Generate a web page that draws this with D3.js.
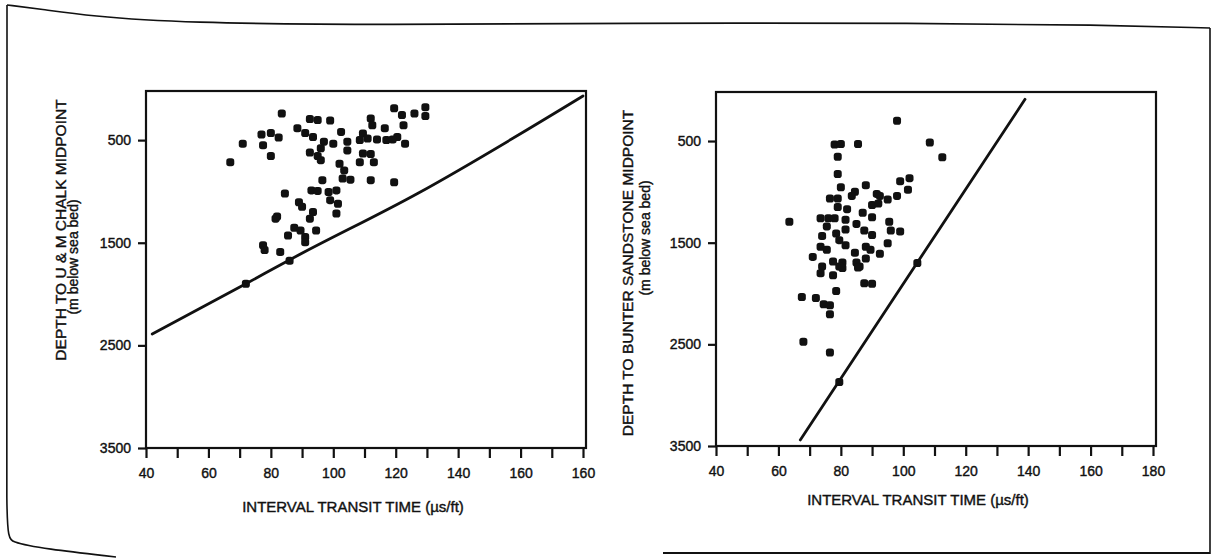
<!DOCTYPE html>
<html>
<head>
<meta charset="utf-8">
<script src="https://cdn.jsdelivr.net/npm/d3@7"></script>
<style>
  body { margin: 0; background: #fff; }
  svg { display: block; }
  text { font-family: "Liberation Sans", Arial, Helvetica, sans-serif; fill: #111; stroke: #111; stroke-width: 0.4px; }
</style>
</head>
<body>
<svg id="chart" width="1216" height="558"></svg>
<script>
// ---- Chalk panel: interval transit time (µs/ft) vs depth to U & M Chalk midpoint (m) ----
const chalkTransit = [83.5, 67, 71, 77, 80, 82.5, 77.5, 80, 92.5, 95, 99, 88.5, 91, 93.5, 97, 96, 92.5, 95, 96,
  100, 102.5, 104.5, 104.5, 112, 112.5, 109.5, 108.5, 111, 114, 116.5, 117, 119.5, 122, 126, 129.5, 129.5,
  122.5, 120.5, 119, 123, 109.5, 112, 108.5, 113, 102, 103.5, 103, 105.5, 112, 119.5, 96.5, 93, 95, 84.5,
  98.5, 101, 99, 101.5, 101, 89, 90, 92.5, 93.5, 82, 81.5, 87.5, 85.5, 89.5, 91, 91, 94.5, 77.5, 78, 83, 86, 72];
const chalkDepth = [240, 715, 535, 445, 430, 475, 550, 655, 295, 305, 310, 385, 430, 470, 515, 580, 620, 655, 695,
  535, 420, 515, 600, 290, 355, 435, 500, 485, 495, 385, 500, 190, 255, 240, 180, 265,
  355, 470, 495, 535, 630, 635, 715, 715, 730, 795, 875, 885, 890, 910, 890, 990, 995, 1020,
  1005, 990, 1085, 1120, 1215, 1105, 1150, 1265, 1200, 1245, 1265, 1355, 1430, 1380, 1445, 1495, 1380, 1525, 1570, 1590, 1675, 1900];
// trend line for the chalk panel
const chalkLineTransit = [42, 72, 85.5, 127, 180];
const chalkLineDepth = [2390, 1900, 1675, 1020, 70];

// ---- Bunter panel: interval transit time (µs/ft) vs depth to Bunter Sandstone midpoint (m) ----
const bunterTransit = [98, 78, 80, 85.5, 79, 108.5, 112.5, 79, 80, 88, 99, 102, 101.5, 84.5, 83.5, 76.5, 79, 79, 82,
  91.5, 92.5, 95, 98, 90, 92, 87, 90, 63.5, 73.5, 76, 78, 75.5, 81.5, 85, 95.5, 81.5, 87.5, 96, 99, 74, 78.5,
  79.5, 90, 95, 73.5, 75.5, 81.5, 84.5, 88, 89.5, 92.5, 71, 77.5, 80.5, 85, 88, 74, 79.5, 86, 104.5, 73.5, 77.5,
  80.5, 85.5, 87.5, 90, 78.5, 67.5, 72, 74.5, 76.5, 76.5, 68, 76.5, 79.5];
const bunterDepth = [300, 535, 530, 530, 655, 515, 660, 825, 955, 935, 895, 865, 980, 1000, 1040, 1065, 1065, 1150, 1170,
  1020, 1040, 1075, 1040, 1130, 1115, 1205, 1250, 1295, 1260, 1260, 1260, 1340, 1275, 1315, 1295, 1370, 1380, 1380, 1390, 1435, 1410,
  1475, 1425, 1505, 1540, 1570, 1525, 1600, 1540, 1570, 1610, 1640, 1685, 1695, 1695, 1655, 1735, 1735, 1735, 1700, 1800, 1820,
  1750, 1745, 1900, 1905, 1975, 2035, 2045, 2105, 2115, 2205, 2475, 2580, 2870];
const bunterLineTransit = [67, 139];
const bunterLineDepth = [3440, 90];

// ---- axis ticks and labels ----
const xTickValues = [40, 50, 60, 70, 80, 90, 100, 110, 120, 130, 140, 150, 160, 170, 180];
const chalkXLabels = ["40", "60", "80", "100", "120", "140", "160", "160"];
const bunterXLabels = ["40", "60", "80", "100", "120", "140", "160", "180"];
const yTickValues = [500, 1500, 2500, 3500];
const yTickLabels = ["500", "1500", "2500", "3500"];

const xTitle = "INTERVAL TRANSIT TIME (µs/ft)";
const chalkYTitle = "DEPTH TO U & M CHALK MIDPOINT";
const bunterYTitle = "DEPTH TO BUNTER SANDSTONE MIDPOINT";
const yUnits = "(m below sea bed)";

const svg = d3.select("#chart");

// sheet outline: curled top edge, straight sides, curled lower-left corner
const sheet = d3.line().curve(d3.curveBasis);
const ink = (sel, w) => sel.attr("fill", "none").attr("stroke", "#111").attr("stroke-width", w);
ink(svg.append("path")
  .attr("d", sheet([[7, 5], [7, 5], [40, 9], [90, 16], [180, 23], [390, 25], [620, 23], [930, 23], [1100, 25], [1210, 28], [1210, 28]])), 1.6);
ink(svg.append("line").attr("x1", 1210).attr("x2", 1210).attr("y1", 28).attr("y2", 554), 1.6);
ink(svg.append("path")
  .attr("d", sheet([[7, 5], [7, 5], [7, 300], [6, 535], [10, 542], [45, 549], [116, 557], [116, 557]])), 1.6);
ink(svg.append("line").attr("x1", 663).attr("x2", 1210).attr("y1", 553).attr("y2", 553), 2);

function panel(opts) {
  const x = d3.scaleLinear().domain([40, 180]).range(opts.xRange);
  const y = d3.scaleLinear().domain([0, 3500]).range(opts.yRange);
  const g = svg.append("g");

  // frame
  g.append("rect")
    .attr("x", opts.xRange[0]).attr("y", opts.top)
    .attr("width", opts.right - opts.xRange[0]).attr("height", opts.yRange[1] - opts.top)
    .attr("fill", "none").attr("stroke", "#111").attr("stroke-width", 2.2);

  // x axis
  const xa = g.append("g")
    .attr("transform", `translate(0,${opts.yRange[1]})`)
    .call(d3.axisBottom(x).tickValues(xTickValues)
      .tickFormat((d, i) => i % 2 === 0 ? opts.xLabels[i / 2] : "")
      .tickSize(10).tickPadding(10));
  xa.select(".domain").remove();
  xa.selectAll(".tick line").attr("stroke", "#111").attr("stroke-width", 2.2);
  xa.selectAll(".tick text").style("font-size", "14px").attr("fill", "#111");

  // y axis
  const ya = g.append("g")
    .attr("transform", `translate(${opts.xRange[0]},0)`)
    .call(d3.axisLeft(y).tickValues(yTickValues)
      .tickFormat((d, i) => yTickLabels[i])
      .tickSize(8).tickPadding(7));
  ya.select(".domain").remove();
  ya.selectAll(".tick line").attr("stroke", "#111").attr("stroke-width", 2.2);
  ya.selectAll(".tick text").style("font-size", "14px").attr("fill", "#111");

  // trend line
  const line = d3.line().x(d => x(d[0])).y(d => y(d[1])).curve(d3.curveMonotoneX);
  g.append("path")
    .attr("d", line(d3.zip(opts.lineX, opts.lineY)))
    .attr("fill", "none").attr("stroke", "#111").attr("stroke-width", 2.8)
    .attr("stroke-linecap", "round");

  // wells
  g.selectAll("rect.well").data(d3.zip(opts.px, opts.py)).join("rect")
    .attr("class", "well")
    .attr("x", d => x(d[0]) - 4).attr("y", d => y(d[1]) - 4)
    .attr("width", 8).attr("height", 8).attr("rx", 2.8)
    .attr("fill", "#111");

  // axis titles
  g.append("text")
    .attr("x", opts.xTitleX).attr("y", opts.xTitleY)
    .attr("text-anchor", "middle").style("font-size", "15px")
    .text(xTitle);
  g.append("text")
    .attr("transform", `translate(${opts.yTitleX},${opts.yTitleY}) rotate(-90)`)
    .attr("text-anchor", "middle").style("font-size", "15.5px")
    .text(opts.yTitle);
  g.append("text")
    .attr("transform", `translate(${opts.unitsX},${opts.unitsY}) rotate(-90)`)
    .attr("text-anchor", "middle").style("font-size", "14px")
    .text(yUnits);
}

panel({
  xRange: [146, 583], yRange: [88.8, 448], top: 91, right: 586,
  xLabels: chalkXLabels,
  lineX: chalkLineTransit, lineY: chalkLineDepth,
  px: chalkTransit, py: chalkDepth,
  xTitleX: 353, xTitleY: 512,
  yTitle: chalkYTitle, yTitleX: 66, yTitleY: 230,
  unitsX: 78, unitsY: 257
});

panel({
  xRange: [716, 1153], yRange: [90.2, 446], top: 92, right: 1156,
  xLabels: bunterXLabels,
  lineX: bunterLineTransit, lineY: bunterLineDepth,
  px: bunterTransit, py: bunterDepth,
  xTitleX: 918, xTitleY: 505,
  yTitle: bunterYTitle, yTitleX: 633, yTitleY: 273,
  unitsX: 650, unitsY: 238
});
</script>
</body>
</html>
